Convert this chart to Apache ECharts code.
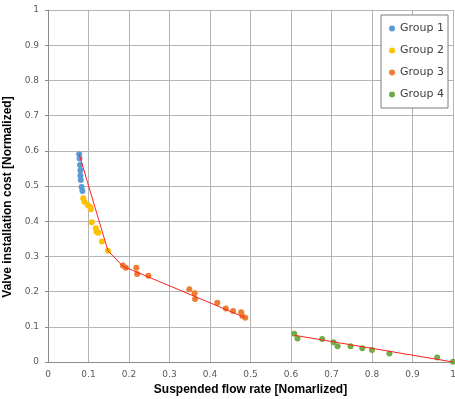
<!DOCTYPE html>
<html>
<head>
<meta charset="utf-8">
<script src="https://cdn.jsdelivr.net/npm/echarts@6/dist/echarts.min.js"></script>
<style>
  html, body { margin: 0; padding: 0; background: #fff; }
  #chart { width: 455px; height: 399px; }
</style>
</head>
<body>
<div id="chart"></div>
<script>
// 数据 (x = flow rate, y = cost)
var group1 = [[0.077, 0.590], [0.078, 0.578], [0.079, 0.560], [0.080, 0.545], [0.080, 0.530], [0.081, 0.517], [0.083, 0.497], [0.085, 0.486]];
var group2 = [[0.087, 0.465], [0.090, 0.455], [0.098, 0.446], [0.104, 0.440], [0.106, 0.434], [0.108, 0.397], [0.118, 0.380], [0.120, 0.370], [0.124, 0.367], [0.133, 0.342], [0.148, 0.316]];
var group3 = [[0.185, 0.274], [0.192, 0.268], [0.218, 0.268], [0.220, 0.250], [0.248, 0.245], [0.349, 0.207], [0.362, 0.195], [0.363, 0.179], [0.418, 0.168], [0.439, 0.152], [0.457, 0.145], [0.477, 0.141], [0.480, 0.131], [0.487, 0.126]];
var group4 = [[0.608, 0.080], [0.616, 0.067], [0.677, 0.065], [0.705, 0.056], [0.715, 0.045], [0.747, 0.045], [0.776, 0.039], [0.800, 0.034], [0.843, 0.024], [0.961, 0.013], [1.000, 0.001]];
// 趋势线
var trendA = [[0.077, 0.590], [0.148, 0.316], [0.185, 0.272], [0.487, 0.126]];
var trendB = [[0.608, 0.076], [1.000, 0.000]];
var groupNames = ['Group 1', 'Group 2', 'Group 3', 'Group 4'];
var groupColors = ['#5b9bd5', '#ffc000', '#ed7d31', '#70ad47'];

var myChart = echarts.init(document.getElementById('chart'));

var gridLine = { show: true, lineStyle: { color: '#b4b4b4', width: 1 } };
var tickFont = { fontFamily: 'DejaVu Sans', fontSize: 9, color: '#595959' };

var scatterSeries = [group1, group2, group3, group4].map(function (d, i) {
	return {
		name: groupNames[i],
		type: 'scatter',
		data: d,
		symbolSize: 6,
		itemStyle: { color: groupColors[i], opacity: 1 },
		z: 3
	};
});

var option = {
	animation: false,
	grid: { left: 48, right: 2, top: 10, bottom: 37, containLabel: false, outerBoundsMode: 'none' },
	legend: {
		orient: 'vertical',
		right: 7,
		top: 15,
		data: groupNames,
		icon: 'circle',
		itemWidth: 6,
		itemHeight: 6,
		itemGap: 11,
		padding: [8, 4, 8, 8],
		backgroundColor: '#fff',
		borderColor: '#7f7f7f',
		borderWidth: 1,
		textStyle: { fontFamily: 'DejaVu Sans', fontSize: 11, color: '#404040' }
	},
	xAxis: {
		type: 'value',
		min: 0, max: 1, interval: 0.1,
		name: 'Suspended flow rate [Nomarlized]',
		nameLocation: 'middle',
		nameGap: 22,
		nameTextStyle: { fontFamily: 'Liberation Sans', fontWeight: 'bold', fontSize: 12, color: '#000' },
		axisLine: { lineStyle: { color: '#8c8c8c' } },
		axisTick: { show: false },
		splitLine: gridLine,
		axisLabel: Object.assign({ margin: 8 }, tickFont)
	},
	yAxis: {
		type: 'value',
		min: 0, max: 1, interval: 0.1,
		name: 'Valve installation cost [Normalized]',
		nameLocation: 'middle',
		nameGap: 25,
		nameTextStyle: { fontFamily: 'Liberation Sans', fontWeight: 'bold', fontSize: 12, color: '#000', padding: [0, 22, 0, 0] },
		axisLine: { show: true, lineStyle: { color: '#8c8c8c' } },
		axisTick: { show: true, length: 3, lineStyle: { color: '#8c8c8c' } },
		splitLine: gridLine,
		axisLabel: Object.assign({ margin: 9 }, tickFont)
	},
	series: scatterSeries.concat([
		{
			type: 'line', data: trendA, symbol: 'none', silent: true,
			lineStyle: { color: '#ff2020', width: 1 }, z: 4
		},
		{
			type: 'line', data: trendB, symbol: 'none', silent: true,
			lineStyle: { color: '#ff2020', width: 1 }, z: 4
		}
	])
};

myChart.setOption(option);
</script>
</body>
</html>
